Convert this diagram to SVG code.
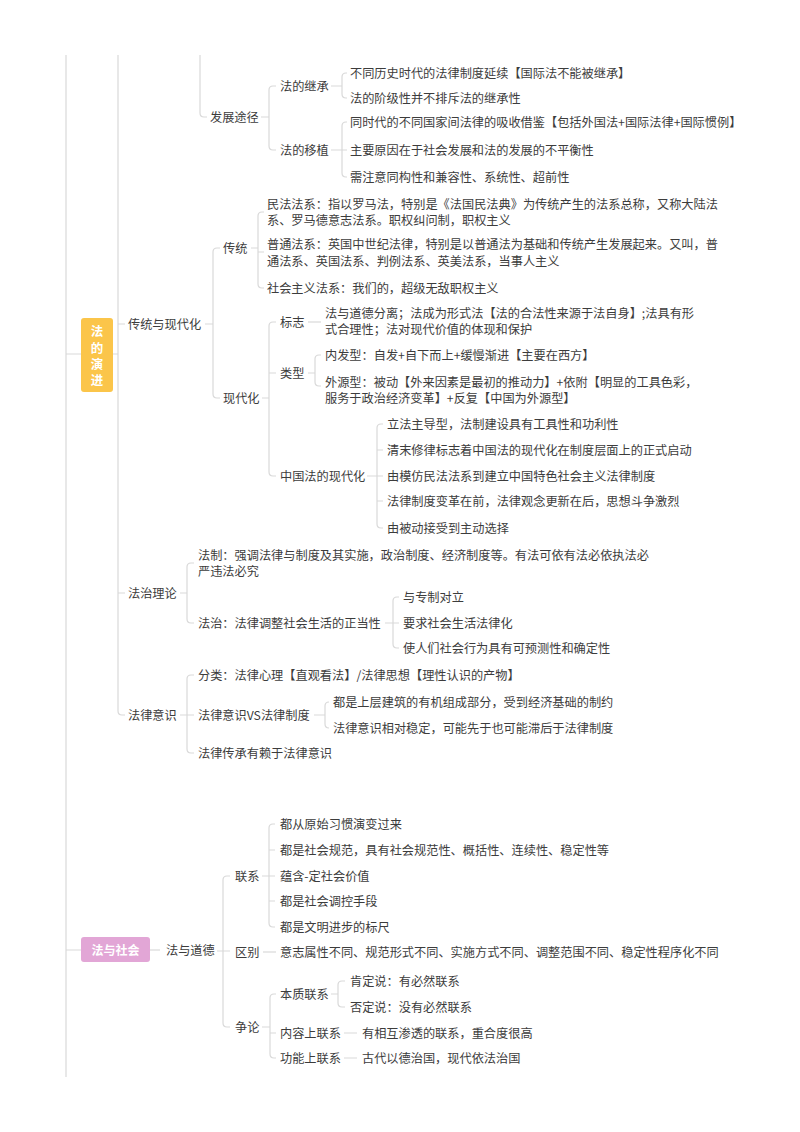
<svg xmlns="http://www.w3.org/2000/svg" width="800" height="1132" viewBox="0 0 800 1132">
<style>
.t{font-family:"Noto Sans CJK SC","Noto Sans",sans-serif;font-size:12.2px;fill:#3c3c3c}
.r{font-family:"Noto Sans CJK SC","Noto Sans",sans-serif;font-weight:bold;fill:#ffffff;text-anchor:middle}
.c path{fill:none;stroke:#d9d9d9;stroke-width:1.2}
</style>
<rect width="800" height="1132" fill="#ffffff"/>
<g id="connectors" class="c">
<path d="M66 55V1077M66 354H81M66 950H81"/>
<path d="M118 55V711Q118 715 122 715H125M113 354H118M118 324H125M118 593H125"/>
<path d="M200 55V113Q200 117 204 117H207"/>
<path d="M261 117H269M276 86H273Q269 86 269 90V146Q269 150 273 150H276"/>
<path d="M331 86H342M347 73H346Q342 73 342 77V94Q342 98 346 98H347"/>
<path d="M331 150H347M347 122H346Q342 122 342 126V173Q342 177 346 177H347"/>
<path d="M205 324H213M220 248H217Q213 248 213 252V394Q213 398 217 398H220"/>
<path d="M251 248H258M264 212H262Q258 212 258 216V284Q258 288 262 288H264M258 252H264"/>
<path d="M262 398H269M276 322H273Q269 322 269 326V472Q269 476 273 476H276M269 373H276"/>
<path d="M308 322H321"/>
<path d="M308 373H315M321 355H319Q315 355 315 359V382Q315 386 319 386H321"/>
<path d="M367 476H383M383 424H381Q377 424 377 428V524Q377 528 381 528H383M377 450H383M377 501H383"/>
<path d="M180 593H187M194 563H191Q187 563 187 567V619Q187 623 191 623H194"/>
<path d="M385 623H399M399 597H397Q393 597 393 601V644Q393 648 397 648H399"/>
<path d="M180 715H194M194 675H191Q187 675 187 679V749Q187 753 191 753H194"/>
<path d="M314 715H325M329 702H329Q325 702 325 706V724Q325 728 329 728H329"/>
<path d="M150 950H160"/>
<path d="M217 951H230M230 876H227Q223 876 223 880V1023Q223 1027 227 1027H230"/>
<path d="M262 876H275M275 824H273Q269 824 269 828V923Q269 927 273 927H275M269 850H275M269 901H275"/>
<path d="M263 952H276"/>
<path d="M262 1027H270M276 994H274Q270 994 270 998V1054Q270 1058 274 1058H276M270 1033H276"/>
<path d="M331 994H338M345 981H342Q338 981 338 985V1003Q338 1007 342 1007H345"/>
<path d="M344 1033H357M344 1058H357"/>
</g>
<g id="root1">
<rect x="81" y="318" width="32" height="74" rx="3" fill="#fbc54a"/>
<text class="r" font-size="12.5" x="97" y="358" writing-mode="vertical-rl" letter-spacing="3.8">法的演进</text>
</g>
<g id="n-fazhantujing"><text class="t" x="210" y="121.5">发展途径</text></g>
<g id="n-jicheng"><text class="t" x="280" y="90.5">法的继承</text></g>
<g id="n-jc1"><text class="t" x="350" y="77.5">不同历史时代的法律制度延续【国际法不能被继承】</text></g>
<g id="n-jc2"><text class="t" x="350" y="102.5">法的阶级性并不排斥法的继承性</text></g>
<g id="n-yizhi"><text class="t" x="280" y="154.5">法的移植</text></g>
<g id="n-yz1"><text class="t" x="350" y="126.5">同时代的不同国家间法律的吸收借鉴【包括外国法+国际法律+国际惯例】</text></g>
<g id="n-yz2"><text class="t" x="350" y="154.5">主要原因在于社会发展和法的发展的不平衡性</text></g>
<g id="n-yz3"><text class="t" x="350" y="181.5">需注意同构性和兼容性、系统性、超前性</text></g>
<g id="n-ctxdh"><text class="t" x="128" y="328.5">传统与现代化</text></g>
<g id="n-chuantong"><text class="t" x="223" y="252.5">传统</text></g>
<g id="n-minfa"><text class="t" x="267" y="208.5">民法法系：指以罗马法，特别是《法国民法典》为传统产生的法系总称，又称大陆法</text><text class="t" x="267" y="224.5">系、罗马德意志法系。职权纠问制，职权主义</text></g>
<g id="n-putong"><text class="t" x="267" y="248.5">普通法系：英国中世纪法律，特别是以普通法为基础和传统产生发展起来。又叫，普</text><text class="t" x="267" y="265.5">通法系、英国法系、判例法系、英美法系，当事人主义</text></g>
<g id="n-shehuizhuyi"><text class="t" x="267" y="292.5">社会主义法系：我们的，超级无敌职权主义</text></g>
<g id="n-xiandaihua"><text class="t" x="223" y="402.5">现代化</text></g>
<g id="n-biaozhi"><text class="t" x="280" y="326.5">标志</text></g>
<g id="n-bz1"><text class="t" x="325" y="318">法与道德分离；法成为形式法【法的合法性来源于法自身】;法具有形</text><text class="t" x="325" y="334">式合理性；法对现代价值的体现和保护</text></g>
<g id="n-leixing"><text class="t" x="280" y="377.5">类型</text></g>
<g id="n-neifa"><text class="t" x="325" y="359.5">内发型：自发+自下而上+缓慢渐进【主要在西方】</text></g>
<g id="n-waiyuan"><text class="t" x="325" y="386.5">外源型：被动【外来因素是最初的推动力】+依附【明显的工具色彩，</text><text class="t" x="325" y="402.5">服务于政治经济变革】+反复【中国为外源型】</text></g>
<g id="n-zhongguo"><text class="t" x="280" y="480.5">中国法的现代化</text></g>
<g id="n-zg1"><text class="t" x="387" y="428.5">立法主导型，法制建设具有工具性和功利性</text></g>
<g id="n-zg2"><text class="t" x="387" y="454.5">清末修律标志着中国法的现代化在制度层面上的正式启动</text></g>
<g id="n-zg3"><text class="t" x="387" y="480.5">由模仿民法法系到建立中国特色社会主义法律制度</text></g>
<g id="n-zg4"><text class="t" x="387" y="505.5">法律制度变革在前，法律观念更新在后，思想斗争激烈</text></g>
<g id="n-zg5"><text class="t" x="387" y="532.5">由被动接受到主动选择</text></g>
<g id="n-fazhililun"><text class="t" x="128" y="597.5">法治理论</text></g>
<g id="n-fazhi1"><text class="t" x="198" y="559.5">法制：强调法律与制度及其实施，政治制度、经济制度等。有法可依有法必依执法必</text><text class="t" x="198" y="575.5">严违法必究</text></g>
<g id="n-fazhi2"><text class="t" x="198" y="627.5">法治：法律调整社会生活的正当性</text></g>
<g id="n-fz1"><text class="t" x="403" y="601.5">与专制对立</text></g>
<g id="n-fz2"><text class="t" x="403" y="627.5">要求社会生活法律化</text></g>
<g id="n-fz3"><text class="t" x="403" y="652.5">使人们社会行为具有可预测性和确定性</text></g>
<g id="n-falvyishi"><text class="t" x="128" y="719.5">法律意识</text></g>
<g id="n-fenlei"><text class="t" x="198" y="679.5">分类：法律心理【直观看法】/法律思想【理性认识的产物】</text></g>
<g id="n-vs"><text class="t" x="198" y="719.5">法律意识VS法律制度</text></g>
<g id="n-vs1"><text class="t" x="333" y="706.5">都是上层建筑的有机组成部分，受到经济基础的制约</text></g>
<g id="n-vs2"><text class="t" x="333" y="732.5">法律意识相对稳定，可能先于也可能滞后于法律制度</text></g>
<g id="n-chuancheng"><text class="t" x="198" y="757.5">法律传承有赖于法律意识</text></g>
<g id="root2">
<rect x="81" y="937" width="69" height="25" rx="3" fill="#e2a6d6"/>
<text class="r" font-size="12" x="115.5" y="954.5">法与社会</text>
</g>
<g id="n-fayudaode"><text class="t" x="166" y="954.5">法与道德</text></g>
<g id="n-lianxi"><text class="t" x="235" y="880.5">联系</text></g>
<g id="n-lx1"><text class="t" x="280" y="828.5">都从原始习惯演变过来</text></g>
<g id="n-lx2"><text class="t" x="280" y="854.5">都是社会规范，具有社会规范性、概括性、连续性、稳定性等</text></g>
<g id="n-lx3"><text class="t" x="280" y="880.5">蕴含-定社会价值</text></g>
<g id="n-lx4"><text class="t" x="280" y="905.5">都是社会调控手段</text></g>
<g id="n-lx5"><text class="t" x="280" y="931.5">都是文明进步的标尺</text></g>
<g id="n-qubie"><text class="t" x="235" y="956.5">区别</text></g>
<g id="n-qb1"><text class="t" x="280" y="956.5">意志属性不同、规范形式不同、实施方式不同、调整范围不同、稳定性程序化不同</text></g>
<g id="n-zhenglun"><text class="t" x="235" y="1031.5">争论</text></g>
<g id="n-benzhi"><text class="t" x="280" y="998.5">本质联系</text></g>
<g id="n-bz-k"><text class="t" x="350" y="985.5">肯定说：有必然联系</text></g>
<g id="n-bz-f"><text class="t" x="350" y="1011.5">否定说：没有必然联系</text></g>
<g id="n-neirong"><text class="t" x="280" y="1037.5">内容上联系</text></g>
<g id="n-nr1"><text class="t" x="362" y="1037.5">有相互渗透的联系，重合度很高</text></g>
<g id="n-gongneng"><text class="t" x="280" y="1062.5">功能上联系</text></g>
<g id="n-gn1"><text class="t" x="362" y="1062.5">古代以德治国，现代依法治国</text></g>
</svg>
